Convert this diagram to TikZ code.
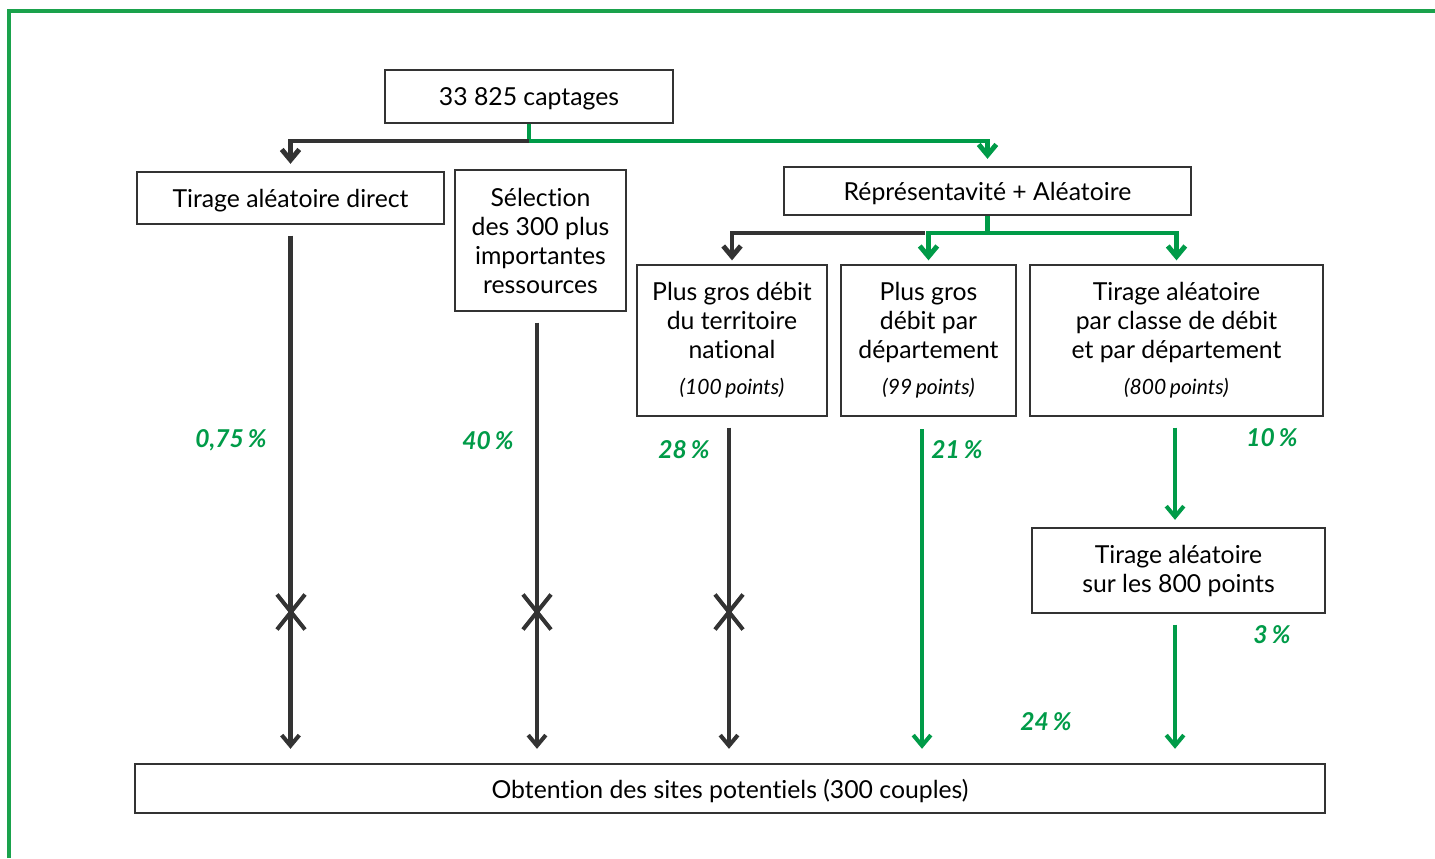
\documentclass[tikz,border=0pt]{standalone}
\usepackage{fontspec}
\setmainfont{Lato}[Ligatures=NoCommon]
\usetikzlibrary{arrows.meta,shapes.misc}
\definecolor{dgray}{HTML}{333333}
\definecolor{vert}{HTML}{009B48}
\definecolor{cadre}{HTML}{1AA24C}
\newcommand{\npts}[1]{{\fontsize{12}{14}\selectfont\itshape #1}}

\begin{document}
\begin{tikzpicture}[x=0.02cm,y=-0.02cm,
    boite/.style={draw=dgray,line width=1.3pt,align=center,inner sep=0pt,
      font=\fontsize{14.1}{16.5}\selectfont},
    ligne/.style={boite,text depth=0pt},
    fl/.style={line width=2.3pt,-{Straight Barb[length=6pt,width=10pt]}},
    noir/.style={fl,draw=dgray},
    vt/.style={fl,draw=vert},
    branche/.style={line width=2.8pt,-{Straight Barb[length=6pt,width=10pt]}},
    pct/.style={text=vert,font=\fontsize{14}{16}\selectfont\bfseries\itshape},
    croix/.style={cross out,draw=dgray,line width=2.3pt,minimum width=0.48cm,
      minimum height=0.62cm,inner sep=0pt}]
            \useasboundingbox (0,0) rectangle (1435,858);
            \draw[cadre,line width=2.3pt] (9,858) -- (9,11) -- (1435,11);

            \node[ligne,minimum width=5.76cm,minimum height=1.06cm] (cap) at(529,96.5) {33 825 captages};
            \node[ligne,minimum width=6.14cm,minimum height=1.04cm] (direct) at(290.5,198) {Tirage aléatoire direct};
            \node[boite,minimum width=3.42cm,minimum height=2.82cm] (sel) at(540.5,240.5) {Sélection\\des 300 plus\\importantes\\ressources};
            \node[ligne,minimum width=8.14cm,minimum height=0.96cm] (rep) at(987.5,191) {Réprésentavité + Aléatoire};

            \node[boite,minimum width=3.8cm,minimum height=3.02cm] (nat) at(732,340.5) {Plus gros débit\\du territoire\\national\\[4pt]\npts{(100\,points)}};
            \node[boite,minimum width=3.5cm,minimum height=3.02cm] (dep) at(928.5,340.5) {Plus gros\\débit par\\département\\[4pt]\npts{(99\,points)}};
            \node[boite,minimum width=5.86cm,minimum height=3.02cm] (cls) at(1176.5,340.5) {Tirage aléatoire\\par classe de débit\\et par département\\[4pt]\npts{(800\,points)}};
            \node[boite,minimum width=5.86cm,minimum height=1.7cm] (tir) at(1178.5,570.5) {Tirage aléatoire\\sur les 800 points};
            \node[ligne,minimum width=23.8cm,minimum height=0.98cm] (obt) at(730,788.5) {Obtention des sites potentiels (300 couples)};

            \coordinate (j1) at(529,141);
            \coordinate (j2) at(987.5,233);
            \coordinate (j3) at(925,233);

            \draw[vert,line width=2.8pt] (cap.south) -- (j1);
            \draw[branche,dgray,shorten >=4pt] (j1) -| (direct.north);
            \draw[branche,vert,shorten >=4pt] (j1) -| (rep.north);

            \draw[vert,line width=2.8pt] (rep.south) -- (j2);
            \draw[branche,dgray,shorten >=2pt] (j3) -| (nat.north);
            \draw[branche,vert,shorten >=2pt] (j2) -| (cls.north);
            \draw[branche,vert,shorten >=2pt] (j2) -| (dep.north);

            \node[croix] (x1) at(291,612) {};
            \node[croix] (x2) at(537,612) {};
            \node[croix] (x3) at(729,612) {};

            \draw[noir,shorten <=6pt,shorten >=8pt] (direct.south) -- (direct.south |- obt.north);
            \draw[noir,shorten <=6pt,shorten >=8pt] ([xshift=-0.07cm]sel.south) -- ([xshift=-0.07cm]sel.south |- obt.north);
            \draw[noir,shorten <=6pt,shorten >=8pt] ([xshift=-0.06cm]nat.south) -- ([xshift=-0.06cm]nat.south |- obt.north);
            \draw[vt,shorten <=7pt,shorten >=8pt] ([xshift=-0.13cm]dep.south) -- ([xshift=-0.13cm]dep.south |- obt.north);
            \draw[vt,shorten <=6pt,shorten >=4pt] ([xshift=-0.03cm]cls.south) -- ([xshift=-0.03cm]cls.south |- tir.north);
            \draw[vt,shorten <=6pt,shorten >=8pt] ([xshift=-0.07cm]tir.south) -- ([xshift=-0.07cm]tir.south |- obt.north);

            \node[pct] (p1) at(231,440) {0,75\,\%};
            \node[pct] (p2) at(488,441) {40\,\%};
            \node[pct] (p3) at(684,450) {28\,\%};
            \node[pct] (p4) at(957,450) {21\,\%};
            \node[pct] (p5) at(1272,438) {10\,\%};
            \node[pct] (p6) at(1272,635) {3\,\%};
            \node[pct] (p7) at(1046,722) {24\,\%};
        \end{tikzpicture}
\end{document}
